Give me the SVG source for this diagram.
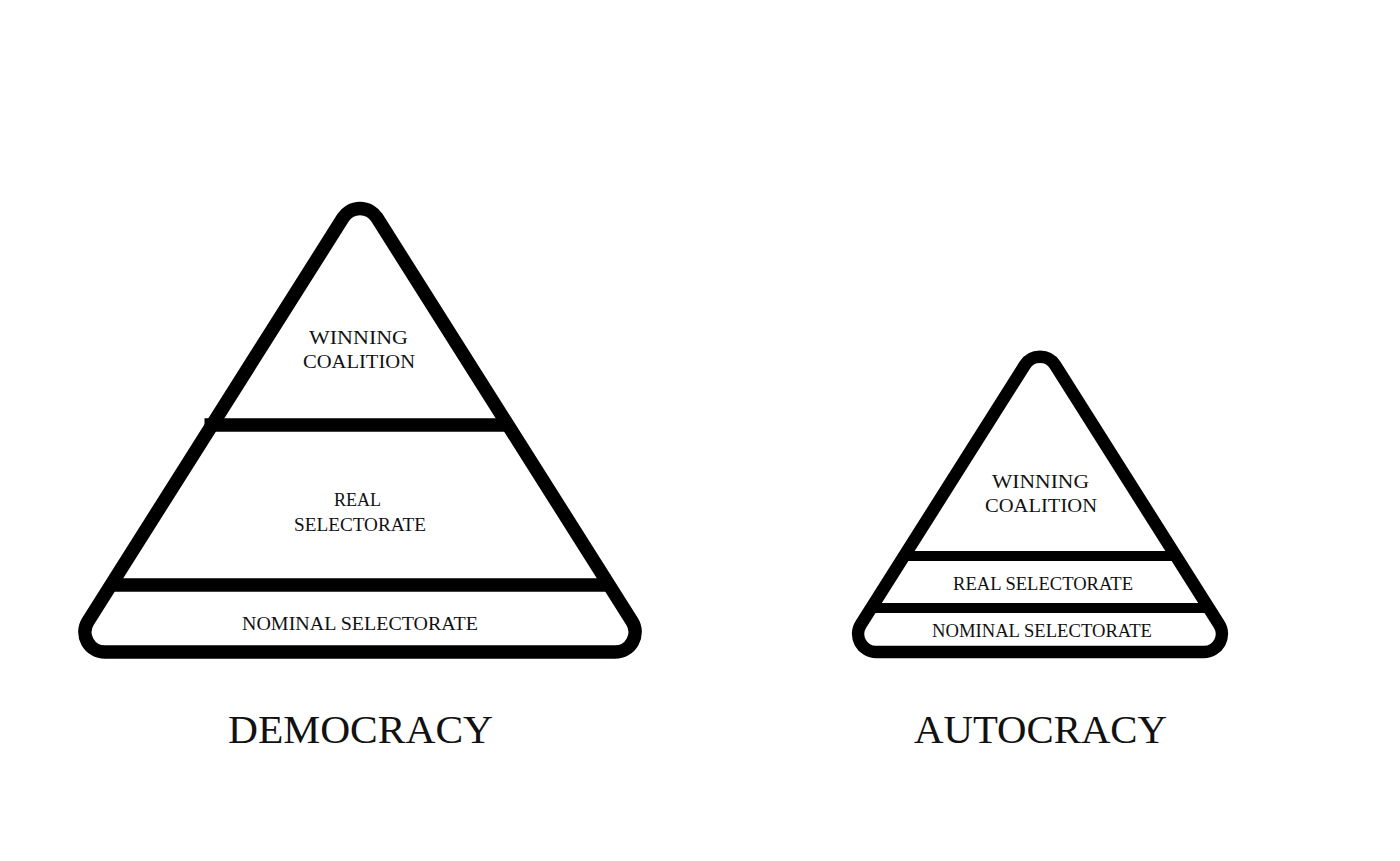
<svg xmlns="http://www.w3.org/2000/svg" width="1400" height="861" viewBox="0 0 1400 861">
<style>
.tri{fill:none;stroke:#000;stroke-linejoin:round}
.band{stroke:#000}
.lbl{font-family:"Liberation Serif","Times New Roman",serif;font-size:19px;fill:#111;text-anchor:middle}
.title{font-family:"Liberation Serif","Times New Roman",serif;font-size:40px;fill:#111;text-anchor:middle}
</style>
<rect width="1400" height="861" fill="#fff"/>
<g id="democracy">
  <path class="tri" stroke-width="13.5" d="M343.1,217.7 A20,20 0 0 1 376.9,217.7 L632,621.3 A20,20 0 0 1 615.1,652 L104.9,652 A20,20 0 0 1 88,621.3 Z"/>
  <line class="band" x1="204.5" y1="425" x2="508" y2="425" stroke-width="13.5"/>
  <line class="band" x1="111" y1="585" x2="609" y2="585" stroke-width="13.5"/>
  <g id="dem-winning">
    <text class="lbl" x="358.5" y="344" textLength="99" lengthAdjust="spacingAndGlyphs">WINNING</text>
    <text class="lbl" x="359" y="368" textLength="112" lengthAdjust="spacingAndGlyphs">COALITION</text>
  </g>
  <g id="dem-real">
    <text class="lbl" x="357.5" y="506" textLength="47" lengthAdjust="spacingAndGlyphs">REAL</text>
    <text class="lbl" x="360" y="531" textLength="132" lengthAdjust="spacingAndGlyphs">SELECTORATE</text>
  </g>
  <g id="dem-nominal">
    <text class="lbl" x="360" y="630" textLength="236" lengthAdjust="spacingAndGlyphs">NOMINAL SELECTORATE</text>
  </g>
  <text class="title" x="360.5" y="743" textLength="265" lengthAdjust="spacingAndGlyphs">DEMOCRACY</text>
</g>
<g id="autocracy">
  <path class="tri" stroke-width="12.5" d="M1024.8,365.1 A18,18 0 0 1 1055.2,365.1 L1219.1,624.4 A18,18 0 0 1 1203.9,652 L876.1,652 A18,18 0 0 1 860.9,624.4 Z"/>
  <line class="band" x1="906" y1="556" x2="1174" y2="556" stroke-width="10"/>
  <line class="band" x1="873" y1="608" x2="1207" y2="608" stroke-width="10"/>
  <g id="aut-winning">
    <text class="lbl" x="1040.5" y="488" textLength="97" lengthAdjust="spacingAndGlyphs">WINNING</text>
    <text class="lbl" x="1041" y="512" textLength="112" lengthAdjust="spacingAndGlyphs">COALITION</text>
  </g>
  <g id="aut-real">
    <text class="lbl" x="1043" y="590" textLength="180" lengthAdjust="spacingAndGlyphs">REAL SELECTORATE</text>
  </g>
  <g id="aut-nominal">
    <text class="lbl" x="1042" y="637" textLength="220" lengthAdjust="spacingAndGlyphs">NOMINAL SELECTORATE</text>
  </g>
  <text class="title" x="1040.5" y="743" textLength="253" lengthAdjust="spacingAndGlyphs">AUTOCRACY</text>
</g>
<g id="connectors"/>
</svg>
